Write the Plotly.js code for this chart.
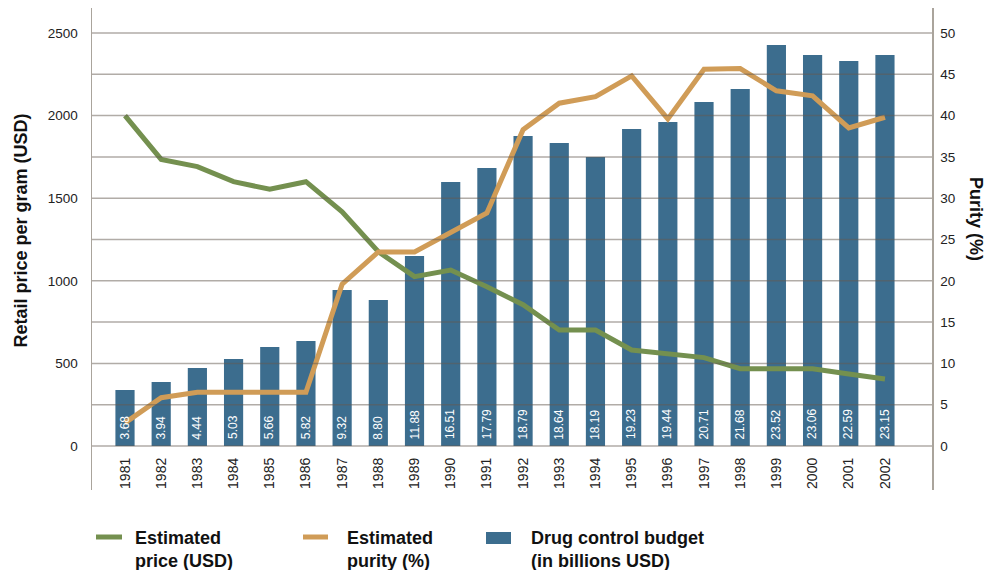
<!DOCTYPE html>
<html>
<head>
<meta charset="utf-8">
<script src="https://cdn.plot.ly/plotly-3.0.1.min.js"></script>
<style>html,body{margin:0;padding:0;background:#fff;}#chart{width:989px;height:570px;}</style>
</head>
<body>
<div id="chart"></div>
<script>
const years = ["1981","1982","1983","1984","1985","1986","1987","1988","1989","1990","1991","1992","1993","1994","1995","1996","1997","1998","1999","2000","2001","2002"];
const price = [2000,1735,1691,1600,1554,1600,1418,1176,1025,1065,964,855,702,702,581,560,535,468,468,468,436,406];
const purity = [2.8,5.85,6.5,6.5,6.5,6.5,19.6,23.5,23.5,25.8,28.2,38.3,41.5,42.3,44.8,39.6,45.6,45.7,43.0,42.4,38.5,39.8];
const budgetLabels = ["3.68","3.94","4.44","5.03","5.66","5.82","9.32","8.80","11.88","16.51","17.79","18.79","18.64","18.19","19.23","19.44","20.71","21.68","23.52","23.06","22.59","23.15"];
const barHeights = [339,387,472,527,599,636,944,884,1150,1598,1683,1877,1834,1749,1919,1961,2082,2161,2427,2367,2331,2367];
const leftTicks = [0,500,1000,1500,2000,2500];
const rightTicks = [0,5,10,15,20,25,30,35,40,45,50];
const gridValues = [0,250,500,750,1000,1250,1500,1750,2000,2250,2500];

const BLUE = "#3c6d8e", GREEN = "#74904f", ORANGE = "#d09c57";
const FONT = "Liberation Sans, Arial, sans-serif";

const traces = [
  {type:"bar", x:years, y:barHeights, yaxis:"y", marker:{color:BLUE}, width:0.53, hoverinfo:"skip", showlegend:false},
  {type:"scatter", mode:"lines", x:years, y:price, yaxis:"y", line:{color:GREEN, width:5}, showlegend:false},
  {type:"scatter", mode:"lines", x:years, y:purity, yaxis:"y2", line:{color:ORANGE, width:5}, showlegend:false}
];

const shapes = gridValues.map(v => ({type:"line", xref:"paper", x0:0, x1:1, yref:"y", y0:v, y1:v,
  line:{color:"rgba(100,90,80,0.5)", width:1.5}, layer:"above"}));

const annotations = years.map((yr,i) => ({x:i, y:28, xref:"x", yref:"y", text:budgetLabels[i], textangle:-90,
  showarrow:false, yanchor:"bottom", font:{family:FONT, size:12, color:"#ffffff"}}));

annotations.push({xref:"paper", yref:"paper", x:-0.085, y:(490-231)/482, xanchor:"center", yanchor:"middle",
  text:"<b>Retail price per gram (USD)</b>", textangle:-90, showarrow:false, font:{family:FONT, size:18, color:"#111"}});
annotations.push({xref:"paper", yref:"paper", x:(976-92)/840, y:(490-219)/482, xanchor:"center", yanchor:"middle",
  text:"<b>Purity (%)</b>", textangle:90, showarrow:false, font:{family:FONT, size:18, color:"#111"}});

// legend
const legendItems = [
  {kind:"line", color:GREEN, x0:96, x1:122, tx:133, text:"<b>Estimated<br>price (USD)</b>"},
  {kind:"line", color:ORANGE, x0:303, x1:328, tx:345, text:"<b>Estimated<br>purity (%)</b>"},
  {kind:"rect", color:BLUE, x0:486, x1:511, tx:529, text:"<b>Drug control budget<br>(in billions USD)</b>"}
];
const px = v => (v-92)/840;
const py = v => (490-v)/482;
legendItems.forEach(it => {
  if (it.kind === "line") {
    shapes.push({type:"line", xref:"paper", yref:"paper", x0:px(it.x0), x1:px(it.x1), y0:py(537), y1:py(537), line:{color:it.color, width:5}});
  } else {
    shapes.push({type:"rect", xref:"paper", yref:"paper", x0:px(it.x0), x1:px(it.x1), y0:py(544), y1:py(532), fillcolor:it.color, line:{width:0}});
  }
  annotations.push({xref:"paper", yref:"paper", x:px(it.tx), y:py(526), xanchor:"left", yanchor:"top", align:"left",
    text:it.text, showarrow:false, font:{family:FONT, size:18, color:"#111"}});
});

const layout = {
  width:989, height:570,
  margin:{l:92, r:57, t:8, b:80},
  paper_bgcolor:"#fff", plot_bgcolor:"#fff",
  showlegend:false,
  font:{family:FONT, size:13, color:"#222"},
  xaxis:{type:"category", range:[-0.912, 22.30], anchor:"free", position:py(454), showline:false, showgrid:false, zeroline:false,
    tickangle:-90, ticks:"", tickfont:{family:FONT, size:14, color:"#222"}, fixedrange:true},
  yaxis:{range:[-266.3, 2651.3], tickvals:leftTicks, showgrid:false, zeroline:false, showline:true, linecolor:"#aaa49c", linewidth:1.5,
    ticks:"", ticklabelstandoff:10, tickfont:{family:FONT, size:13.5, color:"#222"}},
  yaxis2:{range:[-5.326, 53.026], tickvals:rightTicks, overlaying:"y", side:"right", showgrid:false, zeroline:false, showline:true,
    linecolor:"#aaa49c", linewidth:1.5, ticks:"", ticklabelstandoff:4, tickfont:{family:FONT, size:13.5, color:"#222"}},
  shapes:shapes,
  annotations:annotations,
  bargap:0.47
};

Plotly.newPlot("chart", traces, layout, {displayModeBar:false, staticPlot:true});
</script>
</body>
</html>
